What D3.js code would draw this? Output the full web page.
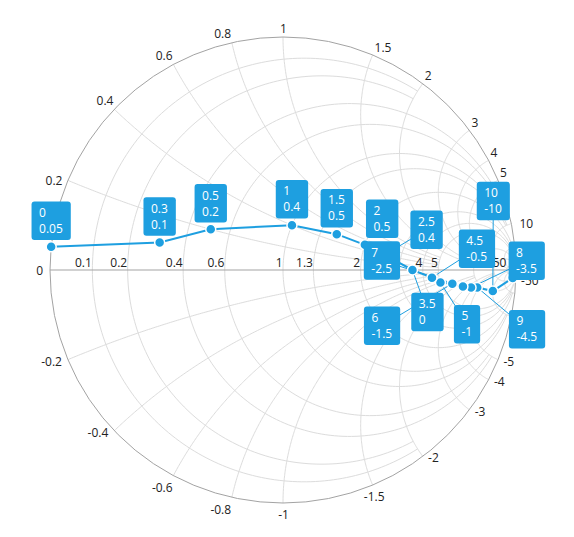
<!DOCTYPE html>
<html><head><meta charset="utf-8">
<script src="https://cdn.jsdelivr.net/npm/d3@7"></script>
<style>
html,body{margin:0;padding:0;background:#fff;}
svg{display:block;}
text{font-family:"Segoe UI","Open Sans",sans-serif;font-size:12px;}
</style></head><body>
<svg id="chart" width="574" height="537"></svg>
<script>
// ---- data (Transmission2) ----
const resistance = [20, 10, 9, 8, 7, 6, 5, 4.5, 3.5, 2.5, 2, 1.5, 1, 0.5, 0.3, 0];
const reactance  = [-50, -10, -4.5, -3.5, -2.5, -1.5, -1, -0.5, 0, 0.4, 0.5, 0.5, 0.4, 0.2, 0.1, 0.05];
// horizontal (resistance) axis values and labels
const resistanceGrid   = [0.1, 0.2, 0.4, 0.6, 1, 1.3, 2, 3, 4, 5, 10, 20, 50];
const resistanceLabels = [0, 0.1, 0.2, 0.4, 0.6, 1, 1.3, 2, 4, 5, 50];
// radial (reactance) axis values and labels
const reactanceGrid   = [-50, -20, -10, -5, -4, -3, -2, -1.5, -1, -0.8, -0.6, -0.4, -0.2,
                          0.2, 0.4, 0.6, 0.8, 1, 1.5, 2, 3, 4, 5, 10, 20, 50];
const reactanceLabels = [-50, -5, -4, -3, -2, -1.5, -1, -0.8, -0.6, -0.4, -0.2,
                          0.2, 0.4, 0.6, 0.8, 1, 1.5, 2, 3, 4, 5, 10];

// ---- layout / style ----
const cx = 283, cy = 270, R = 233;
const BLUE = "#1e9fe0";
const GRID = "#dcdcdc";
const AXIS = "#a3a3a3";
// grid clipping: resistance circle r stops at reactance +/-X ; reactance arc x stops at resistance Rc
function rClip(r){ if(r<=0.2) return 2; if(r<=0.6) return 5; if(r<=1.3) return 10; if(r<=3) return 20; return 50; }
function xClip(x){ const a=Math.abs(x); if(a<=1) return 5; if(a<=2) return 10; if(a<=5) return 20; return 50; }
// data-label offsets of box centre from point (layout), null = hidden
const labelShift = [null,[0.5,-90],[49.8,41.8],[55.7,-26.7],[-81,-26],[-70.3,42],[26.6,41.6],[45,-29],
                    [15,42],[42,-25.3],[17.3,-26],[0,-26],[0,-26],[0,-26],[0,-26],[0,-26]];

const svg = d3.select("#chart");
const gx = d3.scaleLinear().domain([-1,1]).range([cx-R, cx+R]);
const gy = d3.scaleLinear().domain([-1,1]).range([cy+R, cy-R]);
function gamma(r,x){ const den=(r+1)*(r+1)+x*x; return [(r*r-1+x*x)/den, 2*x/den]; }
const line = d3.line().x(d=>gx(d[0])).y(d=>gy(d[1]));

function rArc(r, X){
  const c=r/(1+r), rho=1/(1+r), p=gamma(r,X);
  const a0=Math.atan2(p[1], p[0]-c), pts=[], n=200;
  for(let i=0;i<=n;i++){ const a=a0+(2*Math.PI-2*a0)*i/n; pts.push([c+rho*Math.cos(a), rho*Math.sin(a)]); }
  return pts;
}
function xArc(x, Rc){
  const c=[1,1/x], rho=1/Math.abs(x), p0=gamma(0,x), p1=gamma(Rc,x);
  const ref = x>0 ? -Math.PI/2 : Math.PI/2;
  const norm=a=>{ let d=(a-ref)%(2*Math.PI); if(d<0) d+=2*Math.PI; return ref+d; };
  const a0=norm(Math.atan2(p0[1]-c[1],p0[0]-c[0])), a1=norm(Math.atan2(p1[1]-c[1],p1[0]-c[0]));
  const pts=[], n=200;
  for(let i=0;i<=n;i++){ const a=a0+(a1-a0)*i/n; pts.push([c[0]+rho*Math.cos(a), c[1]+rho*Math.sin(a)]); }
  return pts;
}

const grid = svg.append("g").attr("fill","none").attr("stroke",GRID).attr("stroke-width",1);
resistanceGrid.forEach(r=>grid.append("path").attr("d", line(rArc(r, rClip(r)))));
reactanceGrid.forEach(x=>grid.append("path").attr("d", line(xArc(x, xClip(x)))));

// outer circle and horizontal axis
svg.append("circle").attr("cx",gx(0)).attr("cy",gy(0)).attr("r",gx(1)-gx(0))
   .attr("fill","none").attr("stroke",AXIS).attr("stroke-width",1);
svg.append("line").attr("x1",gx(-1)).attr("x2",gx(1)).attr("y1",gy(0)).attr("y2",gy(0))
   .attr("stroke",AXIS).attr("stroke-width",1);

// horizontal axis labels
const hl = svg.append("g").attr("fill","#222");
resistanceLabels.forEach(r=>{
  const px = gx(gamma(r,0)[0]);
  if(r===0) hl.append("text").attr("x",px-7).attr("y",gy(0)+4.5).attr("text-anchor","end").text(r);
  else hl.append("text").attr("x",px-0.5).attr("y",gy(0)-3.5).attr("text-anchor","end").text(r);
});
// radial axis labels
const rl = svg.append("g").attr("fill","#222");
reactanceLabels.forEach(x=>{
  const p=gamma(0,x), px=gx(p[0]), py=gy(p[1]);
  const th=Math.abs(Math.atan2(p[1],p[0])*180/Math.PI);
  let anchor, dx, dy;
  if(x>0){
    if(th>150){anchor="end";dx=-5.5;dy=4.8;}
    else if(th<15){anchor="start";dx=8;dy=4.6;}
    else if(th>85&&th<95){anchor="middle";dx=0.5;dy=-4;}
    else if(th>=95){anchor="end";dx=-0.8;dy=-4.5;}
    else {anchor="start";dx=2;dy=-3.2;}
  } else {
    if(th>130){anchor="end";dx=-6;dy=6.3;}
    else if(th<60){anchor="start";dx=5.3;dy=6;}
    else if(th>85&&th<95){anchor="middle";dx=0.5;dy=15.5;}
    else if(th>=95){anchor="end";dx=-0.7;dy=16.5;}
    else {anchor="middle";dx=1.6;dy=15.7;}
  }
  rl.append("text").attr("x",px+dx).attr("y",py+dy).attr("text-anchor",anchor).text(x);
});

// series
const pts = resistance.map((r,i)=>{ const g=gamma(r,reactance[i]); return {r, x:reactance[i], px:gx(g[0]), py:gy(g[1]), i}; });
svg.append("path").attr("d", d3.line().x(d=>d.px).y(d=>d.py)(pts))
   .attr("fill","none").attr("stroke",BLUE).attr("stroke-width",2);

// data labels measurement
const measure = svg.append("text").attr("visibility","hidden");
function tw(s){ measure.text(s); return measure.node().getComputedTextLength(); }
const boxes = pts.map(d=>{
  const s=labelShift[d.i]; if(!s) return null;
  const w=Math.max(tw(String(d.r)), tw(String(d.x)))+15.5, h=38.5;
  const bx=d.px+s[0], by=d.py+s[1];
  return {d, x:bx-w/2, y:by-h/2, w, h, bx, by};
}).filter(b=>b);

// connectors
svg.append("g").selectAll("line").data(boxes.filter(b=>Math.hypot(b.bx-b.d.px,b.by-b.d.py)>35)).join("line")
  .attr("x1",b=>b.d.px).attr("y1",b=>b.d.py).attr("x2",b=>b.bx).attr("y2",b=>b.by)
  .attr("stroke",BLUE).attr("stroke-width",1);

// markers
svg.append("g").selectAll("circle").data(pts).join("circle")
  .attr("cx",d=>d.px).attr("cy",d=>d.py).attr("r",5)
  .attr("fill",BLUE).attr("stroke","#fff").attr("stroke-width",1.5);

// label boxes
const lb = svg.append("g").selectAll("g").data(boxes).join("g");
lb.append("rect").attr("x",b=>b.x).attr("y",b=>b.y).attr("width",b=>b.w).attr("height",b=>b.h)
  .attr("rx",3).attr("fill",BLUE);
lb.append("text").attr("x",b=>b.x+7.5).attr("y",b=>b.y+15.5).attr("fill","#fff").text(b=>b.d.r);
lb.append("text").attr("x",b=>b.x+7.5).attr("y",b=>b.y+31.5).attr("fill","#fff").text(b=>b.d.x);
measure.remove();
</script>
</body></html>
